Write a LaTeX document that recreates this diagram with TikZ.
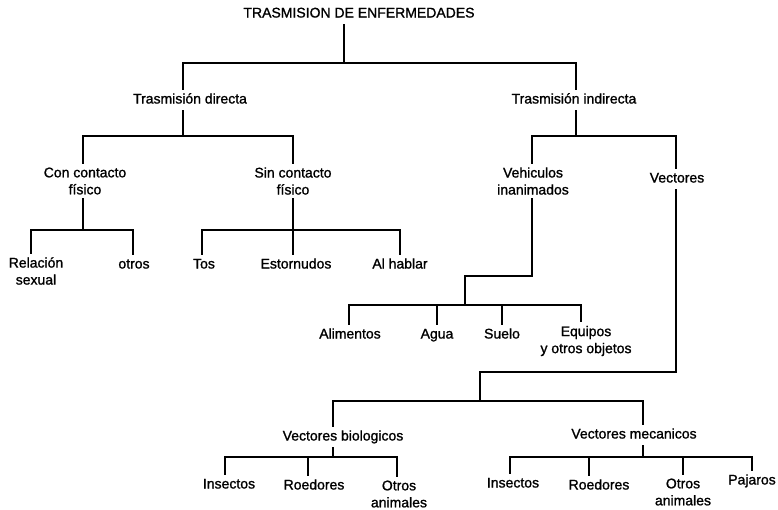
\documentclass[tikz,border=0pt]{standalone}
\usepackage{fontspec}
\setmainfont[FakeBold=1.2,AutoFakeBold=1.2]{Liberation Sans}
\usetikzlibrary{calc}

\begin{document}
\begin{tikzpicture}[x=1pt,y=-1pt,line width=1.1pt,font=\fontsize{14}{17}\selectfont\bfseries,
    lbl/.style={inner sep=3pt,text height=10pt,text depth=3pt},
    lbltwo/.style={inner sep=3pt,align=center}]
                \useasboundingbox (0,0) rectangle (778,509);
                % titulo y primer nivel
                \node[lbl] (tit) at (359,14) {TRASMISION DE ENFERMEDADES};
                \node[lbl] (trd) at (190,100) {Trasmisión directa};
                \node[lbl] (tri) at (574,100) {Trasmisión indirecta};
                \coordinate (b1w) at (183,63);
                \coordinate (b1m) at (344,63);
                \coordinate (b1e) at (576,63);
                \draw (tit.south -| b1m)--(b1m);
                \draw (trd.north -| b1w) |- (b1e)--(tri.north -| b1e);
                % trasmision directa
                \node[lbltwo] (con) at (85,181) {Con contacto\\físico};
                \node[lbltwo] (sin) at (293,181) {Sin contacto\\físico};
                \coordinate (b2w) at (83,136);
                \coordinate (b2e) at (293,136);
                \draw (trd.south -| 183,0)--(183,136);
                \draw (con.north -| b2w) |- (b2e)--(sin.north -| b2e);
                \node[lbltwo] (rel) at (36,271) {Relación\\sexual};
                \node[lbl] (otr) at (134,265) {otros};
                \coordinate (b4w) at (31,230);
                \coordinate (b4m) at (83,230);
                \coordinate (b4e) at (133,230);
                \draw (con.south -| b4m)--(b4m);
                \draw (rel.north -| b4w) |- (b4e)--(otr.north -| b4e);
                \node[lbl] (tos) at (204,265) {Tos};
                \node[lbl] (est) at (296,265) {Estornudos};
                \node[lbl] (hab) at (400,265) {Al hablar};
                \coordinate (b5w) at (202,230);
                \coordinate (b5m) at (293,230);
                \coordinate (b5e) at (400,230);
                \draw (sin.south -| b5m)--(est.north -| b5m);
                \draw (tos.north -| b5w) |- (b5e)--(hab.north -| b5e);
                % trasmision indirecta
                \node[lbltwo] (veh) at (533,181) {Vehiculos\\inanimados};
                \node[lbl] (vec) at (677,179) {Vectores};
                \coordinate (b3w) at (532,136);
                \coordinate (b3e) at (676,136);
                \draw (tri.south -| 576,0)--(576,136);
                \draw (veh.north -| b3w) |- (b3e)--(vec.north -| b3e);
                % vehiculos inanimados
                \node[lbl] (ali) at (350,335) {Alimentos};
                \node[lbl] (agu) at (437,335) {Agua};
                \node[lbl] (sue) at (502,335) {Suelo};
                \node[lbltwo] (equ) at (586,341) {Equipos\\y otros objetos};
                \coordinate (v1) at (532,276);
                \coordinate (b6m) at (465,305);
                \coordinate (b6w) at (349,305);
                \coordinate (b6e) at (581,305);
                \draw (veh.south -| v1)--(v1)-|(b6m);
                \draw (ali.north -| b6w) |- (b6e)--(equ.north -| b6e);
                \draw (437,305)--(agu.north -| 437,0);
                \draw (502,305)--(sue.north -| 502,0);
                % vectores
                \node[lbl] (vbi) at (343,437) {Vectores biologicos};
                \node[lbl] (vme) at (634,435) {Vectores mecanicos};
                \coordinate (v2) at (676,372);
                \coordinate (b7m) at (480,401);
                \coordinate (b7w) at (333,401);
                \coordinate (b7e) at (643,401);
                \draw (vec.south -| v2)--(v2)-|(b7m);
                \draw (vbi.north -| b7w) |- (b7e)--(vme.north -| b7e);
                \node[lbl] (in1) at (229,485) {Insectos};
                \node[lbl] (ro1) at (314,486) {Roedores};
                \node[lbltwo] (ot1) at (399,494) {Otros\\animales};
                \coordinate (b8w) at (225,457);
                \coordinate (b8e) at (397,457);
                \draw (vbi.south -| 333,0)--(333,457);
                \draw (in1.north -| b8w) |- (b8e)--(ot1.north -| b8e);
                \draw (308,457)--(ro1.north -| 308,0);
                \node[lbl] (in2) at (513,484) {Insectos};
                \node[lbl] (ro2) at (599,486) {Roedores};
                \node[lbltwo] (ot2) at (683,492) {Otros\\animales};
                \node[lbl] (paj) at (752,481) {Pajaros};
                \coordinate (b9w) at (510,457);
                \coordinate (b9e) at (752,457);
                \draw (vme.south -| 643,0)--(643,457);
                \draw (in2.north -| b9w) |- (b9e)--(paj.north -| b9e);
                \draw (589,457)--(ro2.north -| 589,0);
                \draw (683,457)--(ot2.north -| 683,0);
            \end{tikzpicture}
\end{document}
